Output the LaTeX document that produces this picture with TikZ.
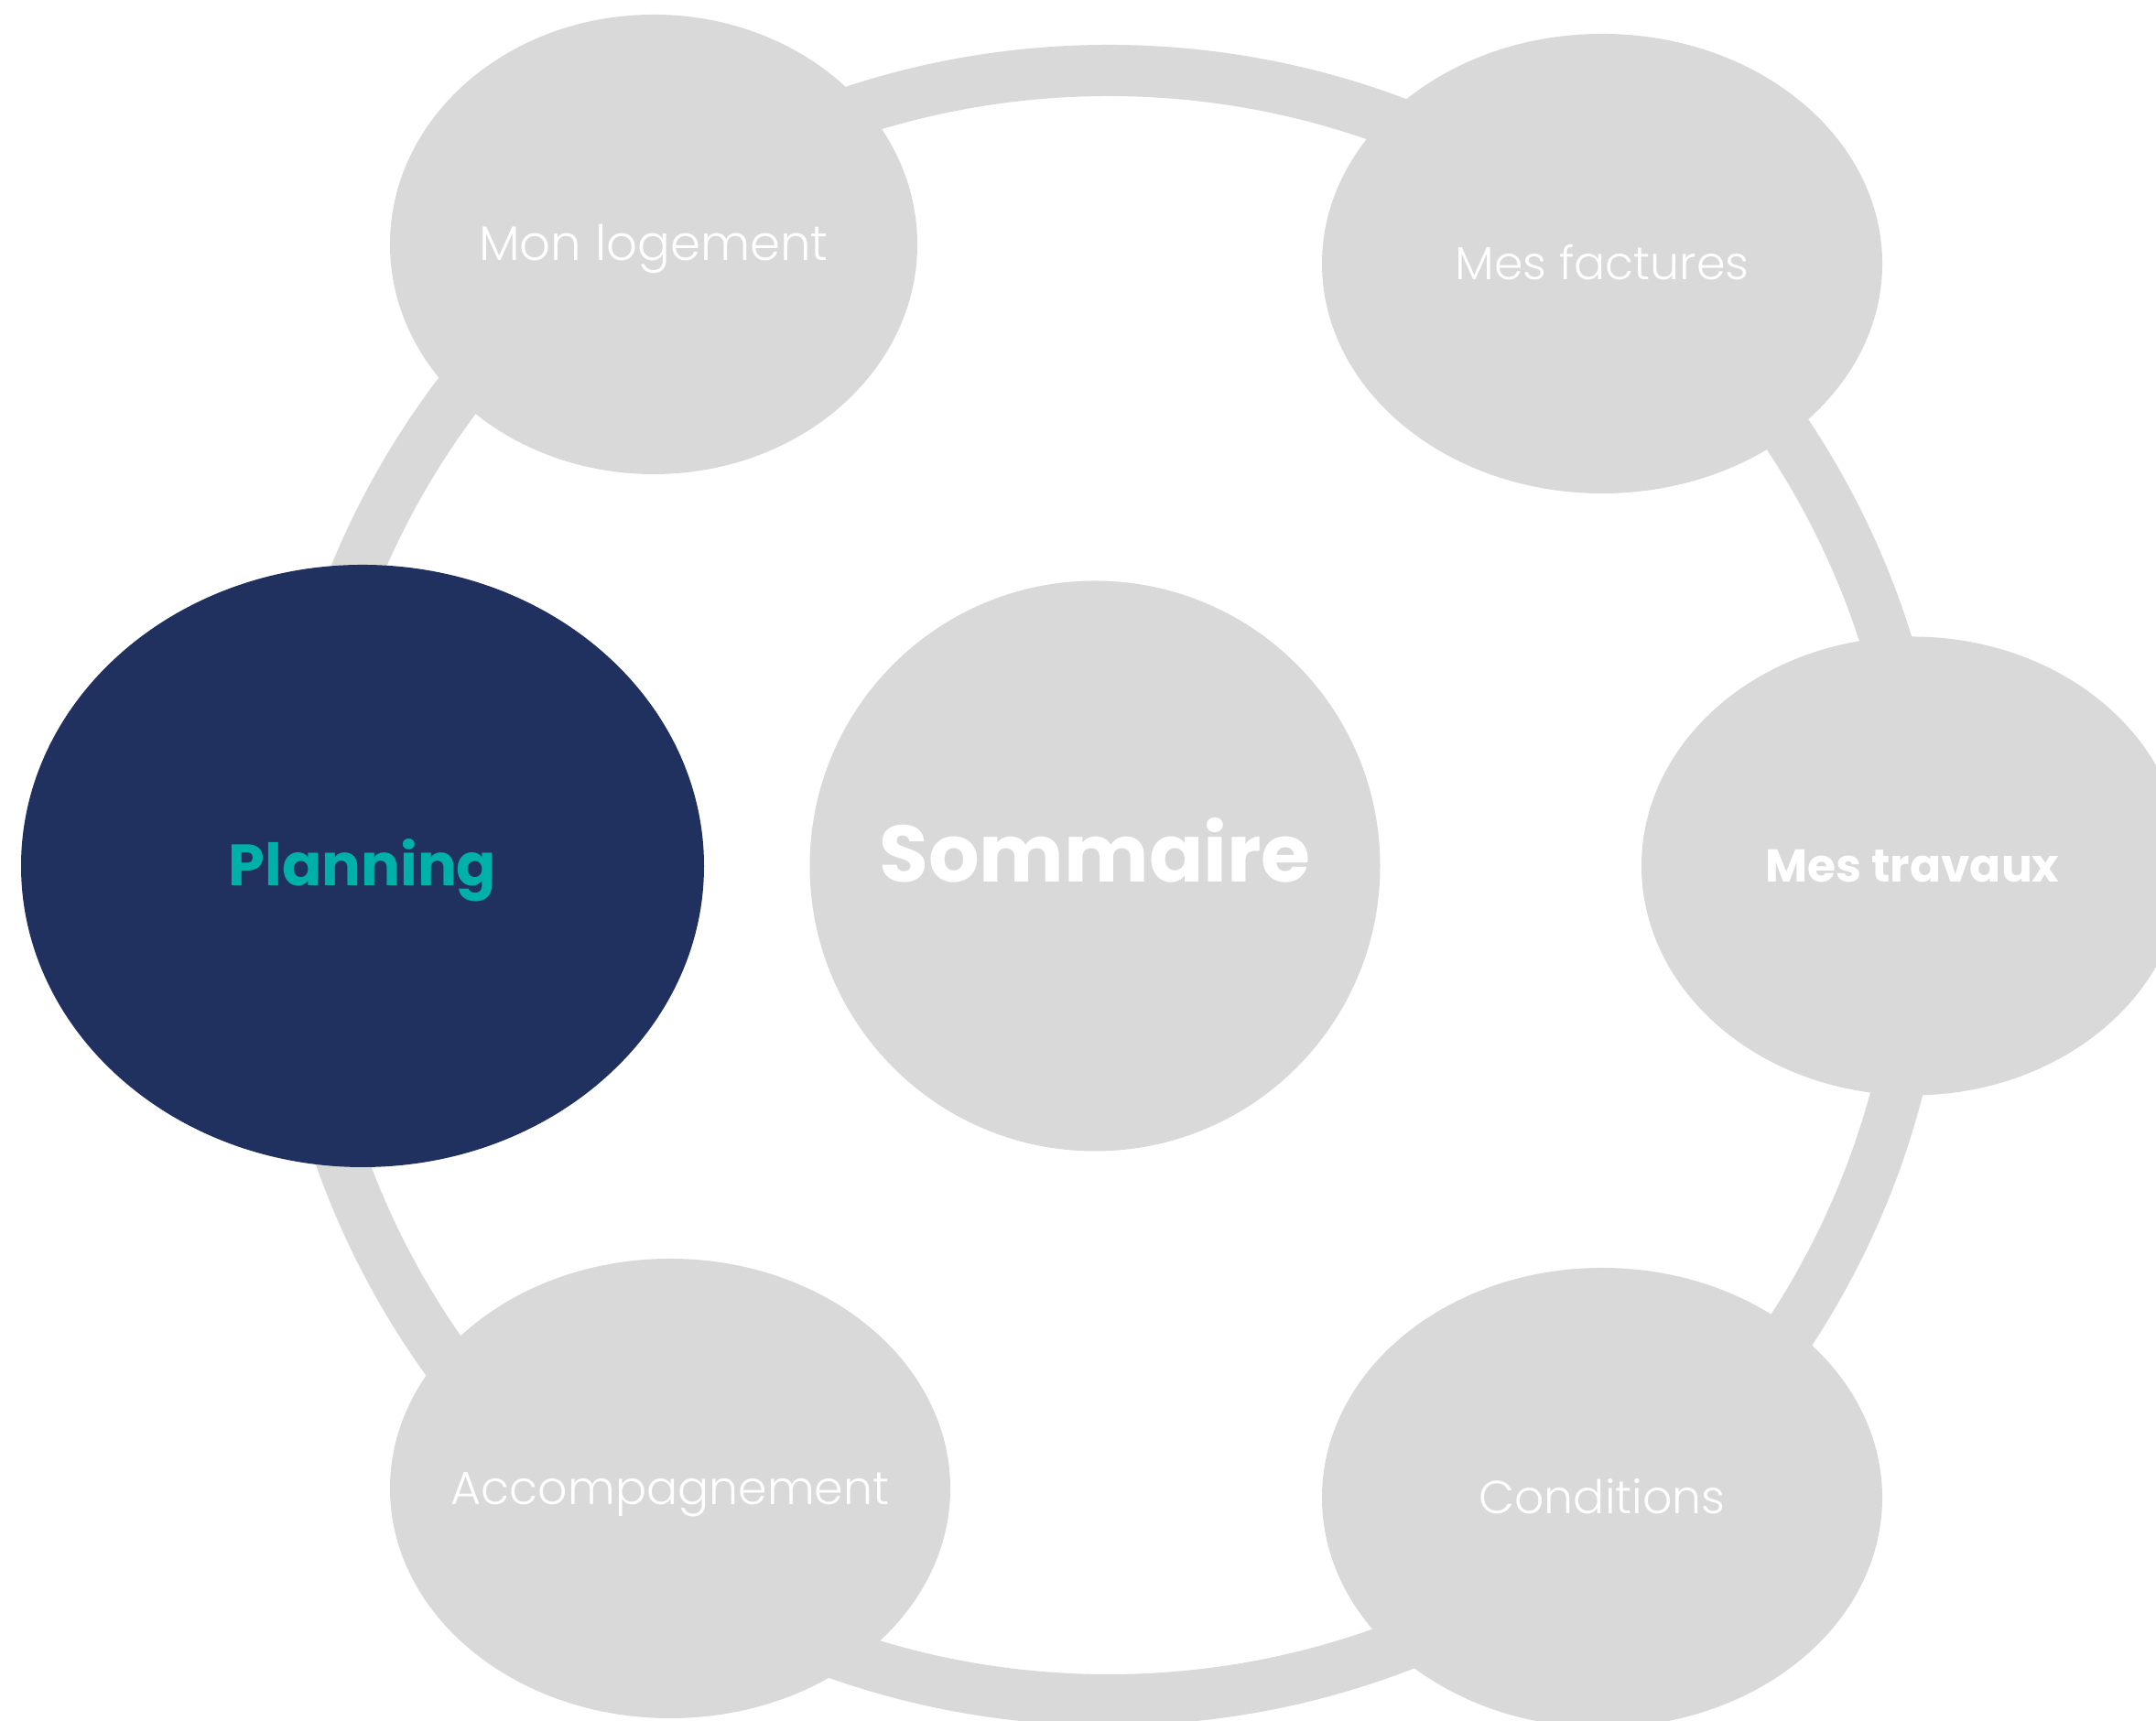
\documentclass[tikz,border=0pt]{standalone}
\usepackage{fontspec}
\setmainfont{Poppins}
\newfontfamily\poplight{Poppins Light}
\usetikzlibrary{shapes.geometric}

\definecolor{ringgray}{HTML}{D9D9D9}
\definecolor{navy}{HTML}{21315F}
\definecolor{teal}{HTML}{00B1AA}

\tikzset{
  bulle/.style={ellipse, fill=ringgray, inner ysep=0pt, inner xsep=-1cm, text=white,
    font=\poplight\fontsize{14.4pt}{18pt}\selectfont, text height=10.2pt, text depth=0pt},
  actif/.style={bulle, fill=navy, text=teal, text height=12pt, font=\bfseries\fontsize{18.1pt}{22pt}\selectfont},
}

\begin{document}
\begin{tikzpicture}
\useasboundingbox[fill=white] (0,0) rectangle (23.55,18.8);

\draw[ringgray, line width=0.56cm] (12.11,9.13) circle[radius=8.90cm];

\node[bulle, minimum width=5.76cm, minimum height=5.02cm, font=\poplight\fontsize{15.1pt}{18pt}\selectfont] (logement) at (7.14,16.13) {Mon logement};
\node[bulle, minimum width=6.12cm, minimum height=5.02cm] (factures) at (17.50,15.92) {Mes factures};
\node[bulle, minimum width=5.92cm, minimum height=5.01cm, font=\bfseries\fontsize{14.3pt}{18pt}\selectfont] (travaux) at (20.89,9.34) {Mes travaux};
\node[actif, minimum width=7.46cm, minimum height=6.58cm] (planning) at (3.96,9.34) {Planning};
\node[bulle, circle, minimum size=6.23cm, font=\bfseries\fontsize{24.9pt}{30pt}\selectfont] (sommaire) at (11.96,9.34) {Sommaire};
\node[bulle, minimum width=6.12cm, minimum height=5.02cm] (accomp) at (7.32,2.54) {Accompagnement};
\node[bulle, minimum width=6.12cm, minimum height=5.02cm] (conditions) at (17.50,2.44) {Conditions};
\end{tikzpicture}
\end{document}
